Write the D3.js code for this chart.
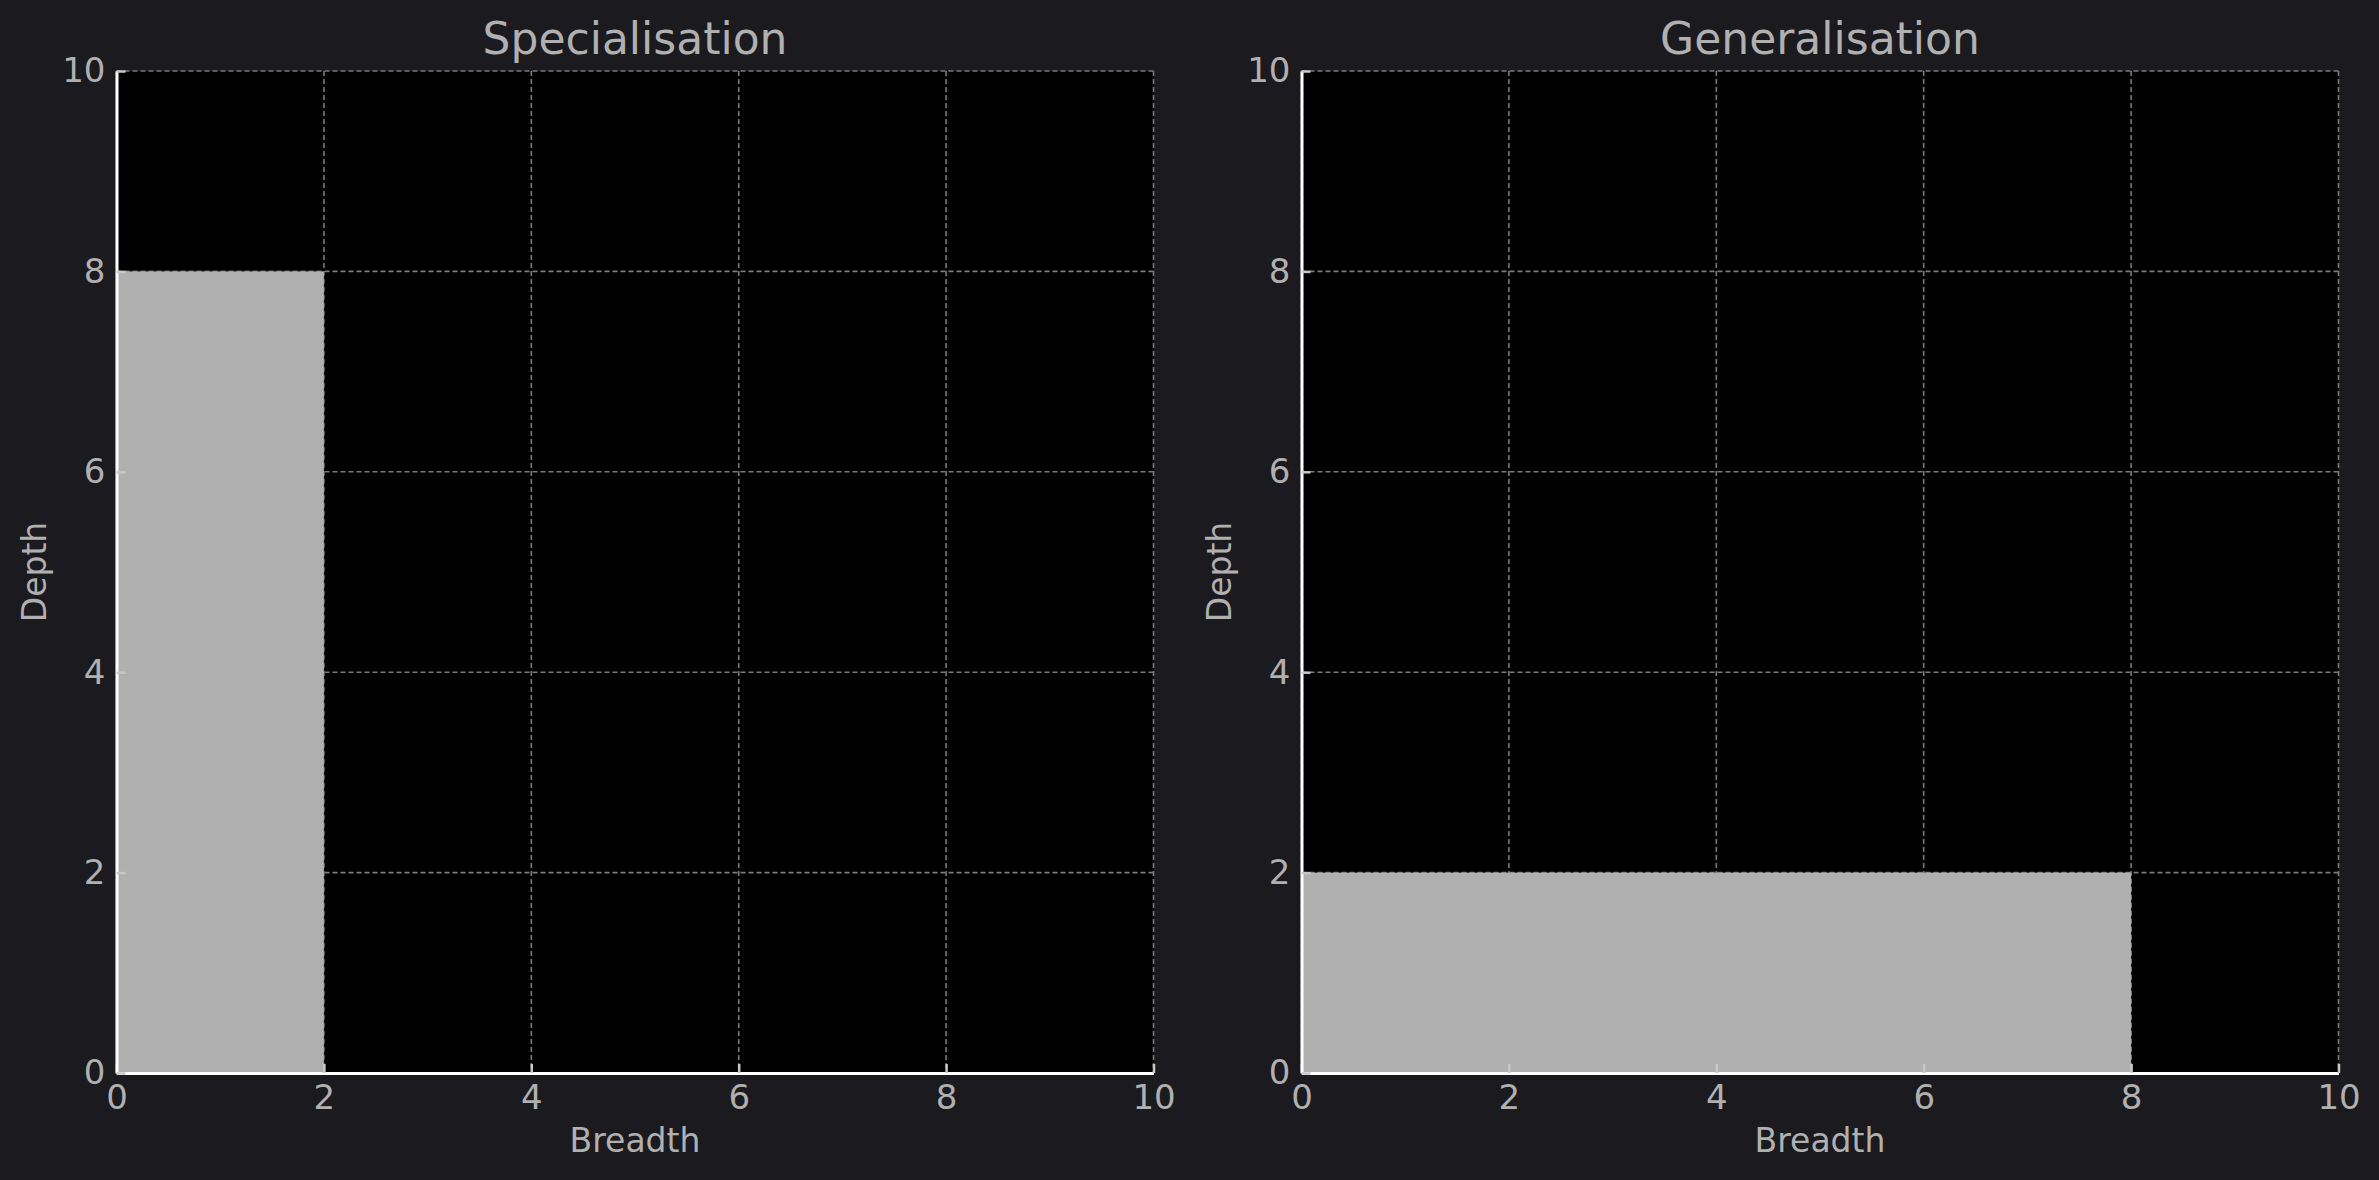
<!DOCTYPE html>
<html><head><meta charset="utf-8">
<script src="https://cdn.jsdelivr.net/npm/d3@7"></script>
<style>body{margin:0;background:#1b1a1f;}svg{display:block;}</style>
</head><body>
<script>
const titles = ["Specialisation", "Generalisation"];
const breadth = [2, 8];
const depth = [8, 2];
const xTicks = [0, 2, 4, 6, 8, 10];
const yTicks = [0, 2, 4, 6, 8, 10];
const xLabel = "Breadth";
const yLabel = "Depth";

(function () {
const W = 2379, H = 1180;
const svg = d3.select("body").append("svg").attr("width", W).attr("height", H);
svg.append("rect").attr("width", W).attr("height", H).attr("fill", "#1b1a1f");

const panels = [{x0: 116.5, x1: 1153.5}, {x0: 1301.5, x1: 2338.5}];
const plotTop = 71, plotBottom = 1073;
const txt = "#b0b0b0", font = "DejaVu Sans";

panels.forEach((p, i) => {
  const x = d3.scaleLinear().domain([0, 10]).range([p.x0, p.x1]);
  const y = d3.scaleLinear().domain([0, 10]).range([plotBottom, plotTop]);
  const g = svg.append("g");
  g.append("rect").attr("x", p.x0).attr("y", plotTop).attr("width", p.x1 - p.x0).attr("height", plotBottom - plotTop).attr("fill", "#000");
  // grid
  g.append("g").selectAll("line").data(xTicks).join("line")
    .attr("x1", d => x(d)).attr("x2", d => x(d)).attr("y1", plotTop).attr("y2", plotBottom)
    .attr("stroke", "#7a7a7a").attr("stroke-width", 1.6).attr("stroke-dasharray", "5,3");
  g.append("g").selectAll("line").data(yTicks).join("line")
    .attr("y1", d => y(d)).attr("y2", d => y(d)).attr("x1", p.x0).attr("x2", p.x1)
    .attr("stroke", "#7a7a7a").attr("stroke-width", 1.6).attr("stroke-dasharray", "5,3");
  // bar
  g.append("rect").attr("x", x(0)).attr("y", y(depth[i]))
    .attr("width", x(breadth[i]) - x(0)).attr("height", y(0) - y(depth[i]))
    .attr("fill", "#b0b0b0");
  // axes
  const xa = g.append("g").attr("transform", `translate(0,${plotBottom})`)
    .call(d3.axisBottom(x).tickValues(xTicks).tickSizeInner(-9).tickSizeOuter(0).tickPadding(12).tickFormat(d3.format("d")));
  const ya = g.append("g").attr("transform", `translate(${p.x0},0)`)
    .call(d3.axisLeft(y).tickValues(yTicks).tickSizeInner(-9).tickSizeOuter(0).tickPadding(11).tickFormat(d3.format("d")));
  [xa, ya].forEach(a => {
    a.select(".domain").attr("stroke", "#ffffff").attr("stroke-width", 3);
    a.selectAll(".tick line").attr("stroke", "#c8c8c8").attr("stroke-width", 2.5);
    a.selectAll(".tick text").attr("fill", txt).attr("font-family", font).attr("font-size", 34);
  });
  // titles & labels
  const cx = (p.x0 + p.x1) / 2;
  g.append("text").attr("x", cx).attr("y", 54).attr("text-anchor", "middle")
    .attr("fill", txt).attr("font-family", font).attr("font-size", 44).text(titles[i]);
  g.append("text").attr("x", cx).attr("y", 1152).attr("text-anchor", "middle")
    .attr("fill", txt).attr("font-family", font).attr("font-size", 33).text(xLabel);
  g.append("text").attr("transform", `translate(${p.x0 - 71},${(plotTop + plotBottom) / 2}) rotate(-90)`)
    .attr("text-anchor", "middle").attr("fill", txt).attr("font-family", font).attr("font-size", 33).text(yLabel);
});
})();
</script>
</body></html>
